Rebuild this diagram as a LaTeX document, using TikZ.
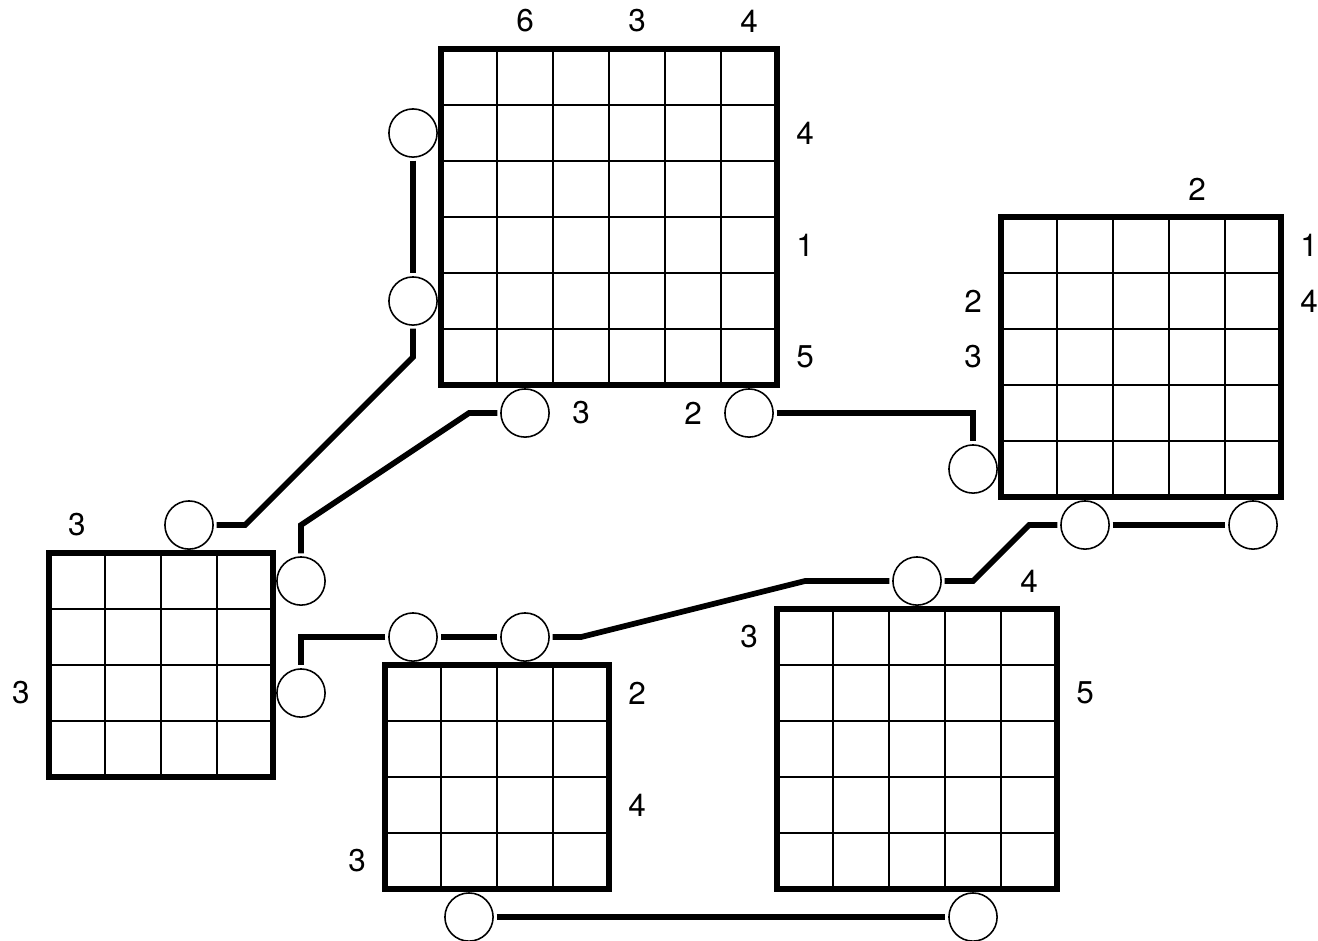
\documentclass[tikz,border=0pt]{standalone}
\usepackage{fontspec}
\setmainfont{TeX Gyre Heros}

\newcommand*{\xlo}{-7.875}
\newcommand*{\xhi}{15.66}
\newcommand*{\ylo}{-0.875}
\newcommand*{\yhi}{15.91}

\begin{document}
\begin{tikzpicture}
[
	board/.style={line width=2.9pt},
	cellline/.style={line width=1pt},
	peg/.style={circle,draw,line width=0.8pt,inner sep=0pt,outer sep=1.8pt,minimum size=0.86cm},
	wire/.style={line width=2.9pt},
	clue/.style={font=\fontsize{16}{18}\selectfont},
	yscale=-1
]

	\useasboundingbox (\xlo,\ylo) rectangle (\xhi,\yhi);

	% boards
	\foreach \x/\y/\n in {0/0/6, 10/3/5, -7/9/4, -1/11/4, 6/10/5} {
		\draw[cellline] (\x,\y) grid (\x+\n,\y+\n);
		\draw[board] (\x,\y) rectangle (\x+\n,\y+\n);
	}

	% clues
	\foreach \x/\y/\t [count=\i] in {1.5/-0.5/6, 3.5/-0.5/3, 5.5/-0.5/4,
		6.5/1.5/4, 6.5/3.5/1, 6.5/5.5/5, 2.5/6.5/3, 4.5/6.5/2,
		13.5/2.5/2, 15.5/3.5/1, 15.5/4.5/4, 9.5/4.5/2, 9.5/5.5/3,
		-6.5/8.5/3, -7.5/11.5/3,
		3.5/11.5/2, 3.5/13.5/4, -1.5/14.5/3,
		10.5/9.5/4, 5.5/10.5/3, 11.5/11.5/5} {
		\node[clue] (clue\i) at (\x,\y) {\t};
	}

	% pegs
	\node[peg] (tl1) at (-0.5, 1.5) {};
	\node[peg] (tl2) at (-0.5, 4.5) {};
	\node[peg] (tb1) at ( 1.5, 6.5) {};
	\node[peg] (tb2) at ( 5.5, 6.5) {};
	\node[peg] (rl)  at ( 9.5, 7.5) {};
	\node[peg] (rb1) at (11.5, 8.5) {};
	\node[peg] (rb2) at (14.5, 8.5) {};
	\node[peg] (lt)  at (-4.5, 8.5) {};
	\node[peg] (lr1) at (-2.5, 9.5) {};
	\node[peg] (lr2) at (-2.5,11.5) {};
	\node[peg] (mt1) at (-0.5,10.5) {};
	\node[peg] (mt2) at ( 1.5,10.5) {};
	\node[peg] (mb)  at ( 0.5,15.5) {};
	\node[peg] (bt)  at ( 8.5, 9.5) {};
	\node[peg] (bb)  at ( 9.5,15.5) {};

	% wires
	\draw[wire] (tl1) -- (tl2);
	\draw[wire] (tl2) -- (-0.5,5.5) -- (-3.5,8.5) -- (lt);
	\draw[wire] (tb1) -- (0.5,6.5) -- (-2.5,8.5) -- (lr1);
	\draw[wire] (tb2) -- (9.5,6.5) -- (rl);
	\draw[wire] (rb1) -- (rb2);
	\draw[wire] (rb1) -- (10.5,8.5) -- (9.5,9.5) -- (bt);
	\draw[wire] (bt) -- (6.5,9.5) -- (2.5,10.5) -- (mt2);
	\draw[wire] (mt2) -- (mt1);
	\draw[wire] (mt1) -- (-2.5,10.5) -- (lr2);
	\draw[wire] (mb) -- (bb);

\end{tikzpicture}
\end{document}
